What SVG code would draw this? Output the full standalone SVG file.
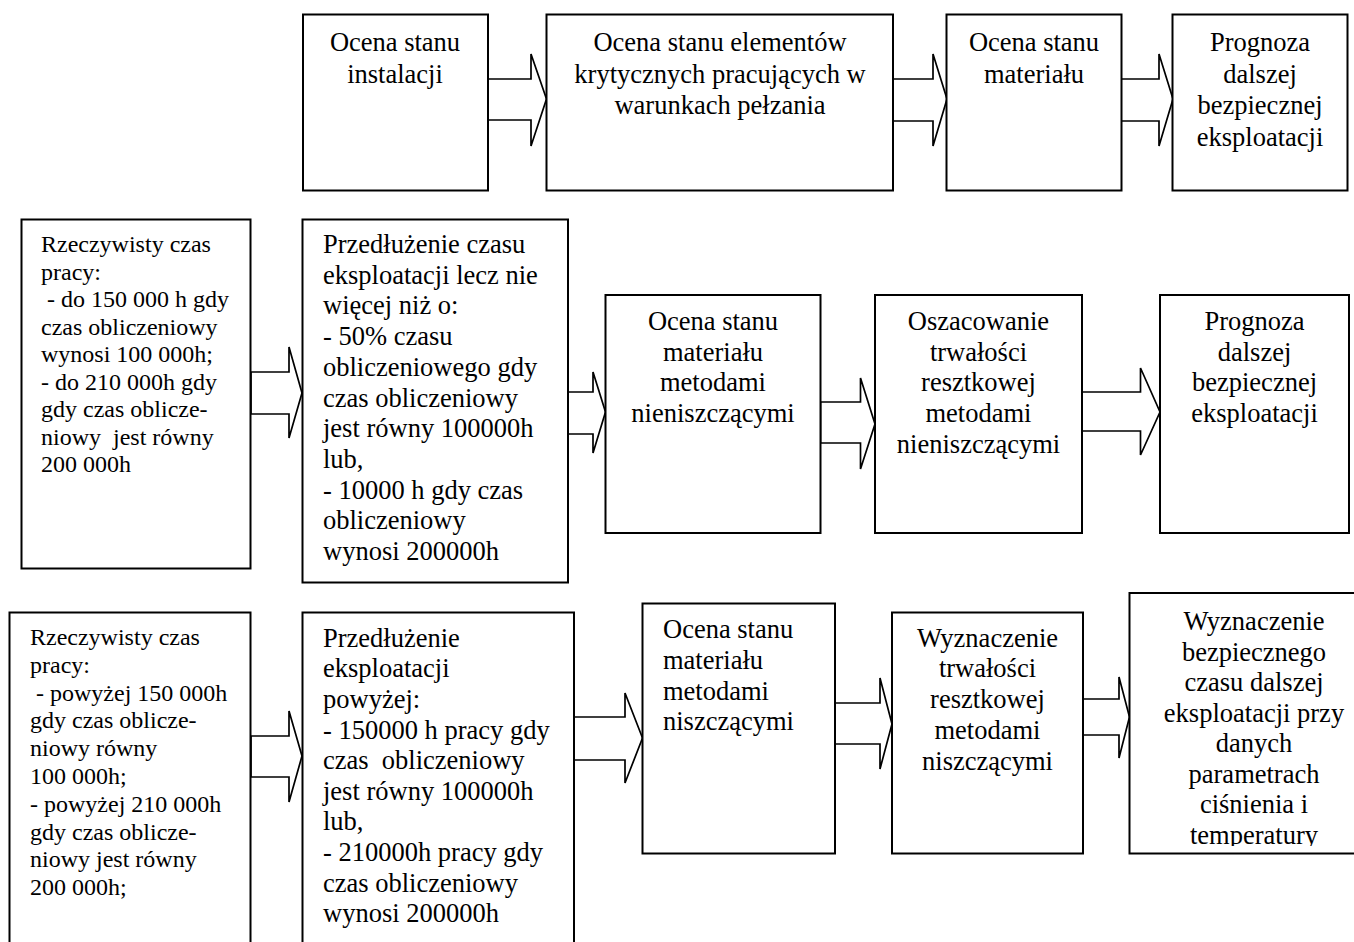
<svg xmlns="http://www.w3.org/2000/svg" width="1354" height="942" viewBox="0 0 1354 942">
<defs>
<style>
.box{fill:#fff;stroke:#000;stroke-width:2}
.arr{fill:#fff;stroke:#000;stroke-width:1.7;stroke-linejoin:miter}
text{font-family:"Liberation Serif","Times New Roman",serif;fill:#000}
.t{font-size:26.5px}
.s{font-size:24px}
.c{text-anchor:middle}
</style>
<clipPath id="clipB5"><rect x="1130" y="593" width="224" height="253"/></clipPath>
</defs>
<rect width="1354" height="942" fill="#fff"/>

<g id="connectors">
<polygon class="arr" points="488,79 531,79 531,54 546.5,99 531,146 531,120 488,120"/>
<polygon class="arr" points="893,79 933,79 933,54 947,99 933,146 933,121 893,121"/>
<polygon class="arr" points="1121,79 1159,79 1159,54 1173,99 1159,146 1159,121 1121,121"/>

<polygon class="arr" points="251,372 289,372 289,347 302,393 289,438 289,414 251,414"/>
<polygon class="arr" points="568,392 593,392 593,372 605.5,412 593,453 593,434 568,434"/>
<polygon class="arr" points="820.5,402 860.5,402 860.5,378 875,424 860.5,469 860.5,443 820.5,443"/>
<polygon class="arr" points="1082,392 1140.5,392 1140.5,368 1160,412 1140.5,455 1140.5,431 1082,431"/>

<polygon class="arr" points="251,736 289,736 289,711 302,756 289,802 289,777 251,777"/>
<polygon class="arr" points="574,717 625,717 625,693 642.5,738 625,783 625,760 574,760"/>
<polygon class="arr" points="835,703 880,703 880,678 892,724 880,769 880,744 835,744"/>
<polygon class="arr" points="1083,699 1119,699 1119,677 1129.5,717 1119,758 1119,735 1083,735"/>
</g>

<g id="n1">
<rect class="box" x="303" y="14.5" width="185" height="176"/>
<text class="t c" x="395" y="51">Ocena stanu</text>
<text class="t c" x="395" y="82.5">instalacji</text>
</g>
<g id="n2">
<rect class="box" x="546.5" y="14.5" width="346.5" height="176"/>
<text class="t c" x="720" y="51">Ocena stanu elementów</text>
<text class="t c" x="720" y="82.5">krytycznych pracujących w</text>
<text class="t c" x="720" y="114">warunkach pełzania</text>
</g>
<g id="n3">
<rect class="box" x="946.5" y="14.5" width="175" height="176"/>
<text class="t c" x="1034" y="51">Ocena stanu</text>
<text class="t c" x="1034" y="82.5">materiału</text>
</g>
<g id="n4">
<rect class="box" x="1172.5" y="14.5" width="175" height="176"/>
<text class="t c" x="1260" y="51">Prognoza</text>
<text class="t c" x="1260" y="82.5">dalszej</text>
<text class="t c" x="1260" y="114">bezpiecznej</text>
<text class="t c" x="1260" y="145.5">eksploatacji</text>
</g>

<g id="n5">
<rect class="box" x="21.5" y="219.5" width="229" height="349"/>
<text class="s" xml:space="preserve"><tspan x="41" y="252">Rzeczywisty czas</tspan><tspan x="41" y="279.5">pracy:</tspan><tspan x="41" y="307"> - do 150 000 h gdy</tspan><tspan x="41" y="334.5">czas obliczeniowy</tspan><tspan x="41" y="362">wynosi 100 000h;</tspan><tspan x="41" y="389.5">- do 210 000h gdy</tspan><tspan x="41" y="417">gdy czas oblicze-</tspan><tspan x="41" y="444.5">niowy  jest równy</tspan><tspan x="41" y="472">200 000h</tspan></text>
</g>
<g id="n6">
<rect class="box" x="302.5" y="219.5" width="265.5" height="363"/>
<text class="t" xml:space="preserve"><tspan x="323" y="253">Przedłużenie czasu</tspan><tspan x="323" y="283.7">eksploatacji lecz nie</tspan><tspan x="323" y="314.4">więcej niż o:</tspan><tspan x="323" y="345.1">- 50% czasu</tspan><tspan x="323" y="375.8">obliczeniowego gdy</tspan><tspan x="323" y="406.5">czas obliczeniowy</tspan><tspan x="323" y="437.2">jest równy 100000h</tspan><tspan x="323" y="467.9">lub,</tspan><tspan x="323" y="498.6">- 10000 h gdy czas</tspan><tspan x="323" y="529.3">obliczeniowy</tspan><tspan x="323" y="560">wynosi 200000h</tspan></text>
</g>
<g id="n7">
<rect class="box" x="605.5" y="295" width="215" height="238"/>
<text class="t c" x="713" y="330">Ocena stanu</text>
<text class="t c" x="713" y="360.7">materiału</text>
<text class="t c" x="713" y="391.4">metodami</text>
<text class="t c" x="713" y="422.1">nieniszczącymi</text>
</g>
<g id="n8">
<rect class="box" x="875" y="295" width="207" height="238"/>
<text class="t c" x="978.5" y="330">Oszacowanie</text>
<text class="t c" x="978.5" y="360.7">trwałości</text>
<text class="t c" x="978.5" y="391.4">resztkowej</text>
<text class="t c" x="978.5" y="422.1">metodami</text>
<text class="t c" x="978.5" y="452.8">nieniszczącymi</text>
</g>
<g id="n9">
<rect class="box" x="1160" y="295" width="189" height="238"/>
<text class="t c" x="1254.5" y="330">Prognoza</text>
<text class="t c" x="1254.5" y="360.7">dalszej</text>
<text class="t c" x="1254.5" y="391.4">bezpiecznej</text>
<text class="t c" x="1254.5" y="422.1">eksploatacji</text>
</g>

<g id="n10">
<rect class="box" x="9.5" y="612.5" width="241" height="340"/>
<text class="s" xml:space="preserve"><tspan x="30" y="645">Rzeczywisty czas</tspan><tspan x="30" y="672.8">pracy:</tspan><tspan x="30" y="700.6"> - powyżej 150 000h</tspan><tspan x="30" y="728.4">gdy czas oblicze-</tspan><tspan x="30" y="756.2">niowy równy</tspan><tspan x="30" y="784">100 000h;</tspan><tspan x="30" y="811.8">- powyżej 210 000h</tspan><tspan x="30" y="839.6">gdy czas oblicze-</tspan><tspan x="30" y="867.4">niowy jest równy</tspan><tspan x="30" y="895.2">200 000h;</tspan></text>
</g>
<g id="n11">
<rect class="box" x="302.5" y="612.5" width="271.5" height="340"/>
<text class="t" xml:space="preserve"><tspan x="323" y="646.7">Przedłużenie</tspan><tspan x="323" y="677.3">eksploatacji</tspan><tspan x="323" y="707.9">powyżej:</tspan><tspan x="323" y="738.5">- 150000 h pracy gdy</tspan><tspan x="323" y="769.1">czas  obliczeniowy</tspan><tspan x="323" y="799.7">jest równy 100000h</tspan><tspan x="323" y="830.3">lub,</tspan><tspan x="323" y="860.9">- 210000h pracy gdy</tspan><tspan x="323" y="891.5">czas obliczeniowy</tspan><tspan x="323" y="922.1">wynosi 200000h</tspan></text>
</g>
<g id="n12">
<rect class="box" x="642.5" y="603.5" width="192.5" height="250"/>
<text class="t" xml:space="preserve"><tspan x="663" y="638.3">Ocena stanu</tspan><tspan x="663" y="669">materiału</tspan><tspan x="663" y="699.7">metodami</tspan><tspan x="663" y="730.4">niszczącymi</tspan></text>
</g>
<g id="n13">
<rect class="box" x="892" y="612.5" width="191" height="241"/>
<text class="t c" x="987.5" y="646.7">Wyznaczenie</text>
<text class="t c" x="987.5" y="677.4">trwałości</text>
<text class="t c" x="987.5" y="708.1">resztkowej</text>
<text class="t c" x="987.5" y="738.8">metodami</text>
<text class="t c" x="987.5" y="769.5">niszczącymi</text>
</g>
<g id="n14">
<rect class="box" x="1129.5" y="593" width="260" height="260.5"/>
<g clip-path="url(#clipB5)">
<text class="t c" x="1254" y="630">Wyznaczenie</text>
<text class="t c" x="1254" y="660.5">bezpiecznego</text>
<text class="t c" x="1254" y="691">czasu dalszej</text>
<text class="t c" x="1254" y="721.5">eksploatacji przy</text>
<text class="t c" x="1254" y="752">danych</text>
<text class="t c" x="1254" y="782.5">parametrach</text>
<text class="t c" x="1254" y="813">ciśnienia i</text>
<text class="t c" x="1254" y="843.5">temperatury</text>
</g>
</g>
</svg>
